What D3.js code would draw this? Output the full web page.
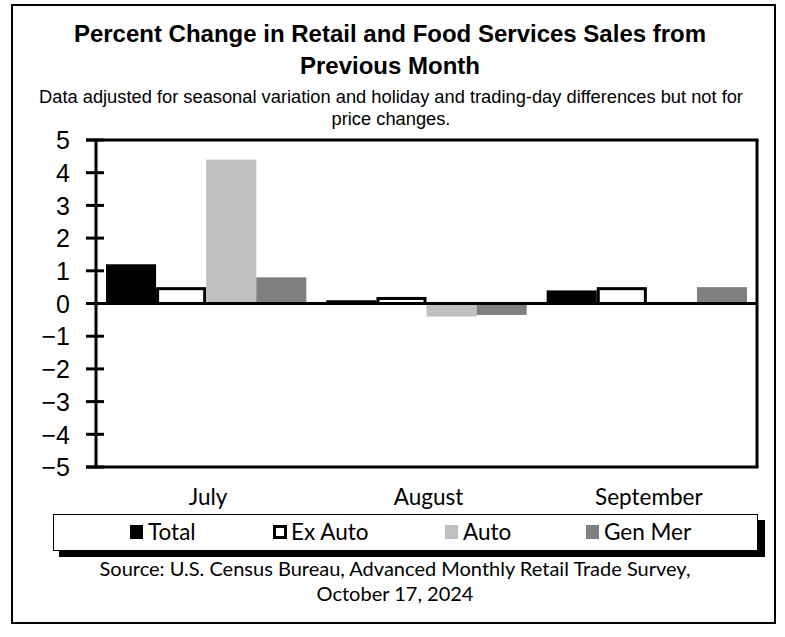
<!DOCTYPE html>
<html><head><meta charset="utf-8">
<script src="https://cdn.jsdelivr.net/npm/d3@7"></script>
<style>body{margin:0;background:#fff}svg{display:block}</style>
</head><body>
<script>
const months = ["July", "August", "September"];
const seriesNames = ["Total", "Ex Auto", "Auto", "Gen Mer"];
const total  = [1.2, 0.1, 0.4];
const exAuto = [0.5, 0.2, 0.5];
const auto   = [4.4, -0.4, 0.0];
const genMer = [0.8, -0.35, 0.5];
const yTicks = [5, 4, 3, 2, 1, 0, -1, -2, -3, -4, -5];
const titleLines = ["Percent Change in Retail and Food Services Sales from", "Previous Month"];
const subLines = ["Data adjusted for seasonal variation and holiday and trading-day differences but not for", "price changes."];
const sourceLines = ["Source: U.S. Census Bureau, Advanced Monthly Retail Trade Survey,", "October 17, 2024"];

const seriesVals = [total, exAuto, auto, genMer];
const fills = ["#000000", "#ffffff", "#c0c0c0", "#808080"];

const W = 785, H = 637;
const svg = d3.select("body").append("svg").attr("width", W).attr("height", H);
svg.append("rect").attr("width", W).attr("height", H).attr("fill", "#fff");
svg.append("rect").attr("x", 12).attr("y", 5).attr("width", 763).attr("height", 618)
  .attr("fill", "none").attr("stroke", "#000").attr("stroke-width", 2);

const L = 96, R = 757, T = 140, B = 467;
const x0 = d3.scaleBand().domain(months).range([L, R]).paddingInner(0).paddingOuter(0);
const x1 = d3.scaleBand().domain(seriesNames).range([10, x0.bandwidth() - 10]);
const y = d3.scaleLinear().domain([-5, 5]).range([B, T]);

const tf = "'Liberation Sans', Arial, sans-serif";
svg.append("g").selectAll("text").data(titleLines).join("text")
  .attr("x", 390).attr("y", (d, i) => 42 + i * 32).attr("text-anchor", "middle")
  .attr("font-family", tf).attr("font-weight", "bold").attr("font-size", 24).text(d => d);
svg.append("g").selectAll("text").data(subLines).join("text")
  .attr("x", 391).attr("y", (d, i) => 103 + i * 22).attr("text-anchor", "middle")
  .attr("font-family", tf).attr("font-size", 18.3).text(d => d);

const g = svg.append("g");
months.forEach((m, mi) => {
  seriesNames.forEach((s, si) => {
    const v = seriesVals[si][mi];
    if (v === 0) return;
    const bx = x0(m) + x1(s), bw = x1.bandwidth();
    const yt = y(Math.max(0, v)), yb = y(Math.min(0, v));
    if (si === 1) {
      g.append("rect").attr("x", bx + 1.5).attr("y", yt + 1.5).attr("width", bw - 3).attr("height", Math.max(0, yb - yt - 1.5))
        .attr("fill", "#fff").attr("stroke", "#000").attr("stroke-width", 3);
    } else {
      g.append("rect").attr("x", bx).attr("y", yt).attr("width", bw).attr("height", yb - yt)
        .attr("fill", fills[si]);
    }
  });
});

const ax = svg.append("g").attr("transform", `translate(${L},0)`)
  .call(d3.axisLeft(y).tickValues(yTicks).tickSize(0).tickFormat(d3.format("d")));
ax.select(".domain").remove();
ax.selectAll("text").attr("x", -26).attr("dy", "0.35em").attr("font-family", tf).attr("font-size", 25).attr("fill", "#000");
svg.append("g").selectAll("line").data(yTicks).join("line")
  .attr("x1", 86).attr("x2", 104).attr("y1", d => y(d)).attr("y2", d => y(d))
  .attr("stroke", "#000").attr("stroke-width", 3);
svg.append("line").attr("x1", L).attr("x2", L).attr("y1", T).attr("y2", B).attr("stroke", "#000").attr("stroke-width", 3);
svg.append("line").attr("x1", L).attr("x2", R).attr("y1", y(0)).attr("y2", y(0)).attr("stroke", "#000").attr("stroke-width", 3);
svg.append("line").attr("x1", 86).attr("x2", R + 1.5).attr("y1", T).attr("y2", T).attr("stroke", "#000").attr("stroke-width", 3);
svg.append("line").attr("x1", 86).attr("x2", R + 1.5).attr("y1", B).attr("y2", B).attr("stroke", "#000").attr("stroke-width", 3);
svg.append("line").attr("x1", R).attr("x2", R).attr("y1", T).attr("y2", B).attr("stroke", "#000").attr("stroke-width", 3);

const cf = "Lato, 'Open Sans', sans-serif";
svg.append("g").selectAll("text").data(months).join("text")
  .attr("x", d => x0(d) + x0.bandwidth() / 2 + 2).attr("y", 505).attr("text-anchor", "middle")
  .attr("font-family", cf).attr("font-size", 22.5).text(d => d);

svg.append("rect").attr("x", 59).attr("y", 520).attr("width", 706).attr("height", 37).attr("fill", "#000");
svg.append("rect").attr("x", 53.5).attr("y", 514.5).attr("width", 704).attr("height", 36).attr("fill", "#fff").attr("stroke", "#000").attr("stroke-width", 1);
const legX = [130, 273, 445, 586];
const lg = svg.append("g").selectAll("g").data(seriesNames).join("g")
  .attr("transform", (d, i) => `translate(${legX[i]},0)`);
lg.append("rect").attr("x", (d, i) => i === 1 ? 1.5 : 0).attr("y", (d, i) => i === 1 ? 526.5 : 525)
  .attr("width", (d, i) => i === 1 ? 11 : 13).attr("height", (d, i) => i === 1 ? 11 : 14)
  .attr("fill", (d, i) => fills[i]).attr("stroke", (d, i) => i === 1 ? "#000" : "none").attr("stroke-width", 3);
lg.append("text").attr("x", 18).attr("y", 540).attr("font-family", cf).attr("font-size", 22.5).text(d => d);

svg.append("g").selectAll("text").data(sourceLines).join("text")
  .attr("x", 395).attr("y", (d, i) => 576 + i * 25).attr("text-anchor", "middle")
  .attr("font-family", cf).attr("font-size", 20).text(d => d);
</script>
</body></html>
